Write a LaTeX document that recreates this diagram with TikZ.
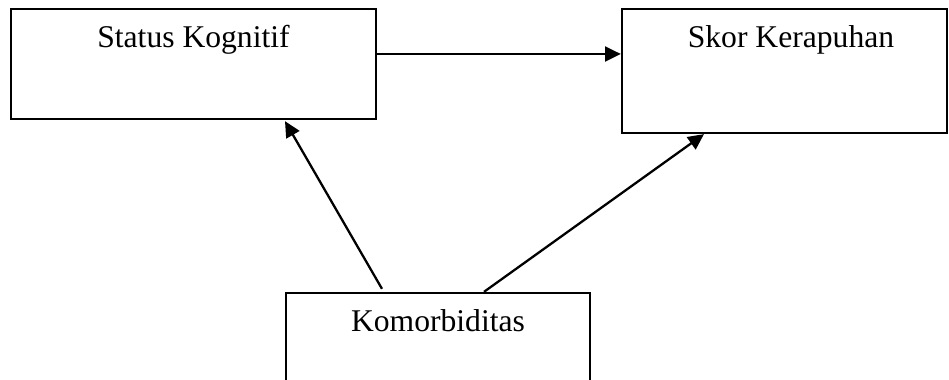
\documentclass[tikz,border=0pt]{standalone}
\usepackage{fontspec}
\setmainfont{Liberation Serif}
\usetikzlibrary{arrows.meta}

\tikzset{
	kotak/.style={draw,line width=1.3pt,inner sep=0pt},
	judul/.style={anchor=base,font=\fontsize{18}{22}\selectfont},
	panah/.style={line width=1.3pt,-{Triangle[length=9pt,width=8.5pt]}}
}

\begin{document}
\begin{tikzpicture}
		\useasboundingbox (0,0) rectangle (18.98,7.6);
		\node[kotak,minimum width=7.3cm,minimum height=2.2cm,
			label={[judul,yshift=-0.79cm]north:Status Kognitif}] (kognitif) at (3.87,6.32) {};
		\node[kotak,minimum width=6.5cm,minimum height=2.48cm,
			label={[judul,xshift=0.13cm,yshift=-0.8cm]north:Skor Kerapuhan}] (kerapuhan) at (15.69,6.18) {};
		\node[kotak,minimum width=6.08cm,minimum height=2.2cm,
			label={[judul,yshift=-0.8cm]north:Komorbiditas}] (komorbid) at (8.76,0.64) {};
		\draw[panah] ([yshift=0.2cm]kognitif.east) -- ([yshift=0.2cm]kognitif.east -| kerapuhan.west);
		\draw[panah] ([xshift=-1.12cm,yshift=0.06cm]komorbid.north) -- ([xshift=1.83cm,yshift=-0.02cm]kognitif.south);
		\draw[panah] ([xshift=0.92cm]komorbid.north) -- ([xshift=-1.61cm]kerapuhan.south);
	\end{tikzpicture}
\end{document}
